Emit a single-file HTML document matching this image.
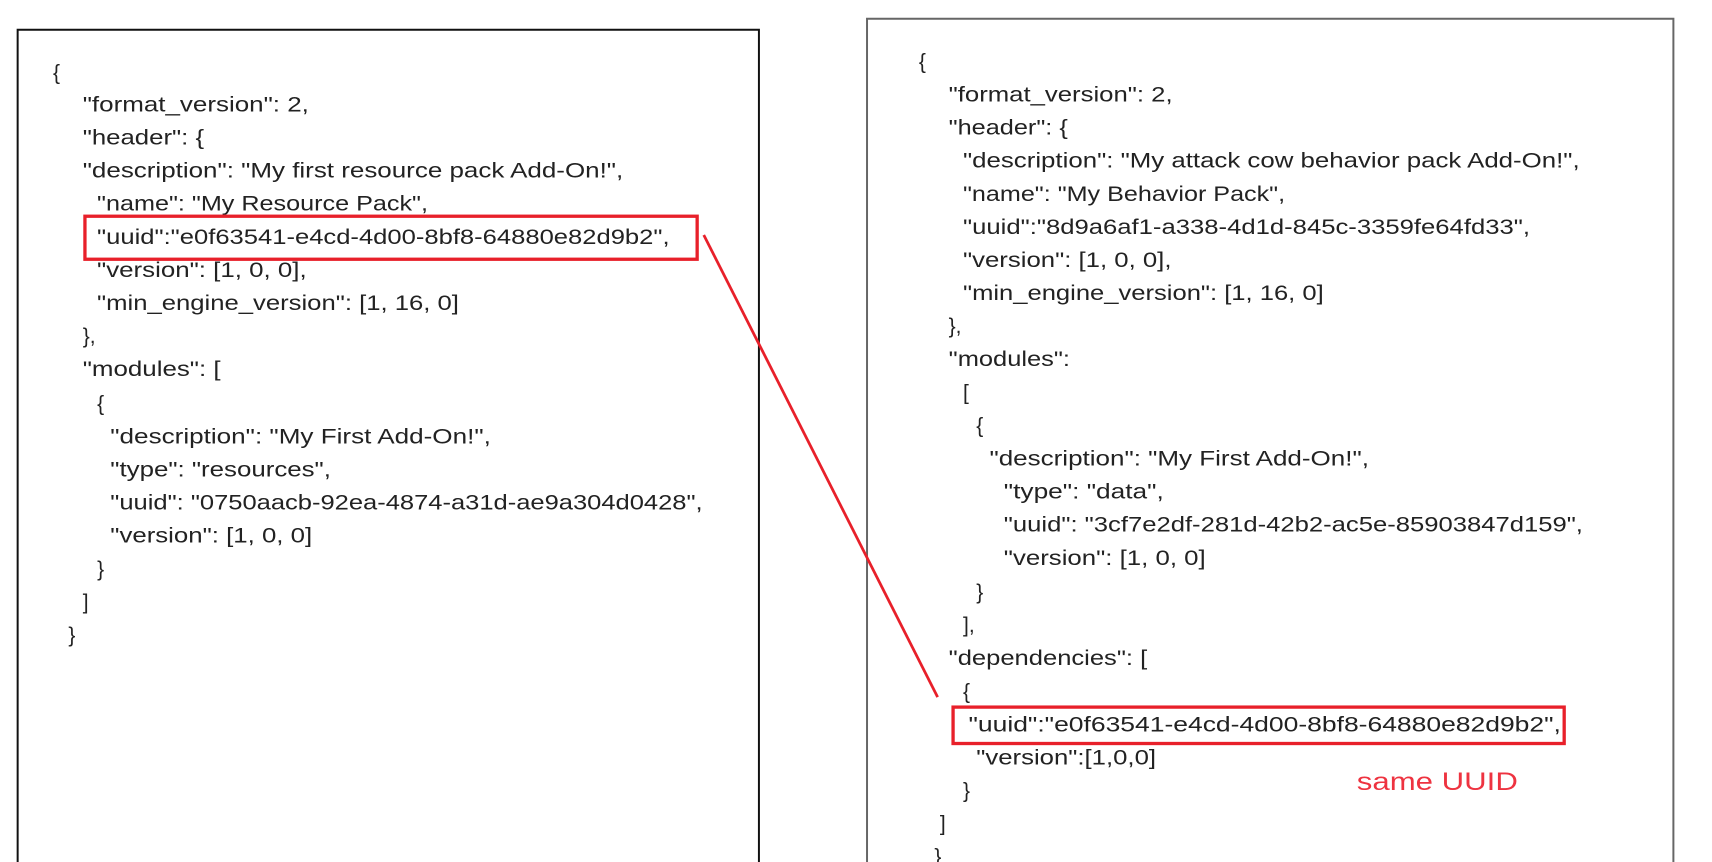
<!DOCTYPE html>
<html><head><meta charset="utf-8"><style>html,body{margin:0;padding:0;background:#fff}svg{display:block}</style></head><body>
<svg width="1712" height="862" viewBox="0 0 1552 781.4" xmlns="http://www.w3.org/2000/svg">
<rect width="1552" height="781.4" fill="#fff"/>
<path d="M16 800 V27 H688 V800" fill="none" stroke="#111" stroke-width="1.8"/>
<path d="M786 800 V17 H1517 V800" fill="none" stroke="#666" stroke-width="1.8"/>
<g font-family="Liberation Sans, sans-serif" font-size="19" fill="#222" lengthAdjust="spacingAndGlyphs">
<text x="48" y="72">{</text>
<text x="75" y="101" textLength="205" lengthAdjust="spacingAndGlyphs">"format_version": 2,</text>
<text x="75" y="131" textLength="110" lengthAdjust="spacingAndGlyphs">"header": {</text>
<text x="75" y="161" textLength="490" lengthAdjust="spacingAndGlyphs">"description": "My first resource pack Add-On!",</text>
<text x="88" y="191" textLength="300" lengthAdjust="spacingAndGlyphs">"name": "My Resource Pack",</text>
<text x="88" y="221" textLength="519" lengthAdjust="spacingAndGlyphs">"uuid":"e0f63541-e4cd-4d00-8bf8-64880e82d9b2",</text>
<text x="88" y="251" textLength="190" lengthAdjust="spacingAndGlyphs">"version": [1, 0, 0],</text>
<text x="88" y="281" textLength="328" lengthAdjust="spacingAndGlyphs">"min_engine_version": [1, 16, 0]</text>
<text x="75" y="311">},</text>
<text x="75" y="341" textLength="125" lengthAdjust="spacingAndGlyphs">"modules": [</text>
<text x="88" y="372">{</text>
<text x="100" y="402" textLength="345" lengthAdjust="spacingAndGlyphs">"description": "My First Add-On!",</text>
<text x="100" y="432" textLength="200" lengthAdjust="spacingAndGlyphs">"type": "resources",</text>
<text x="100" y="462" textLength="537" lengthAdjust="spacingAndGlyphs">"uuid": "0750aacb-92ea-4874-a31d-ae9a304d0428",</text>
<text x="100" y="492" textLength="183" lengthAdjust="spacingAndGlyphs">"version": [1, 0, 0]</text>
<text x="88" y="522">}</text>
<text x="75" y="552">]</text>
<text x="62" y="582">}</text>

<text x="833" y="62">{</text>
<text x="860" y="92" textLength="203" lengthAdjust="spacingAndGlyphs">"format_version": 2,</text>
<text x="860" y="122" textLength="108" lengthAdjust="spacingAndGlyphs">"header": {</text>
<text x="873" y="152" textLength="559" lengthAdjust="spacingAndGlyphs">"description": "My attack cow behavior pack Add-On!",</text>
<text x="873" y="182" textLength="292" lengthAdjust="spacingAndGlyphs">"name": "My Behavior Pack",</text>
<text x="873" y="212" textLength="514" lengthAdjust="spacingAndGlyphs">"uuid":"8d9a6af1-a338-4d1d-845c-3359fe64fd33",</text>
<text x="873" y="242" textLength="189" lengthAdjust="spacingAndGlyphs">"version": [1, 0, 0],</text>
<text x="873" y="272" textLength="327" lengthAdjust="spacingAndGlyphs">"min_engine_version": [1, 16, 0]</text>
<text x="860" y="302">},</text>
<text x="860" y="332" textLength="110" lengthAdjust="spacingAndGlyphs">"modules":</text>
<text x="873" y="362">[</text>
<text x="885" y="392">{</text>
<text x="897" y="422" textLength="344" lengthAdjust="spacingAndGlyphs">"description": "My First Add-On!",</text>
<text x="910" y="452" textLength="145" lengthAdjust="spacingAndGlyphs">"type": "data",</text>
<text x="910" y="482" textLength="525" lengthAdjust="spacingAndGlyphs">"uuid": "3cf7e2df-281d-42b2-ac5e-85903847d159",</text>
<text x="910" y="512" textLength="183" lengthAdjust="spacingAndGlyphs">"version": [1, 0, 0]</text>
<text x="885" y="543">}</text>
<text x="873" y="573">],</text>
<text x="860" y="603" textLength="180" lengthAdjust="spacingAndGlyphs">"dependencies": [</text>
<text x="873" y="633">{</text>
<text x="878" y="663" textLength="537" lengthAdjust="spacingAndGlyphs">"uuid":"e0f63541-e4cd-4d00-8bf8-64880e82d9b2",</text>
<text x="885" y="693" textLength="163" lengthAdjust="spacingAndGlyphs">"version":[1,0,0]</text>
<text x="873" y="723">}</text>
<text x="852" y="753">]</text>
<text x="847" y="783">}</text>
</g>
<rect x="77" y="196" width="555" height="39" fill="none" stroke="#e8202a" stroke-width="3"/>
<rect x="864" y="641" width="554" height="33" fill="none" stroke="#e8202a" stroke-width="3"/>
<line x1="638" y1="213" x2="850" y2="632" stroke="#e8202a" stroke-width="2.5"/>
<text x="1230" y="716" font-family="Liberation Sans, sans-serif" font-size="23" fill="#ee3340" textLength="146" lengthAdjust="spacingAndGlyphs">same UUID</text>
</svg>
</body></html>
